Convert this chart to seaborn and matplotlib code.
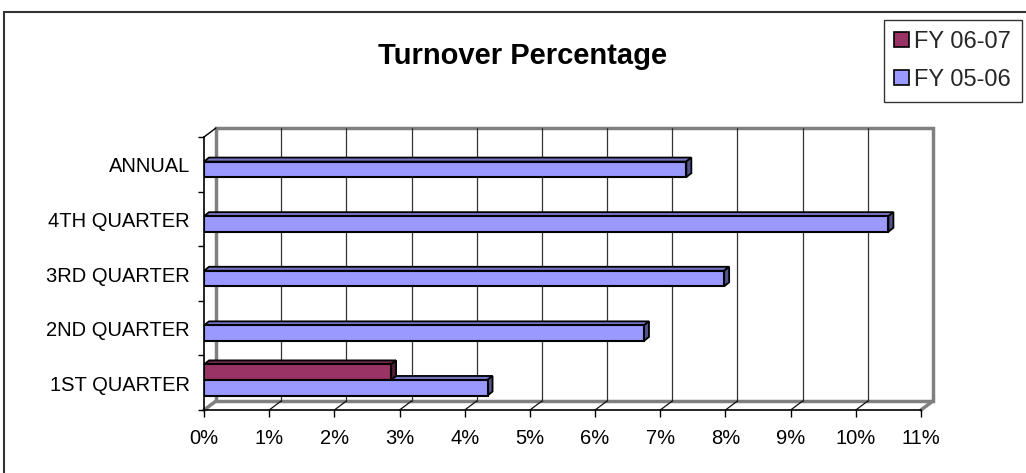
import matplotlib
matplotlib.use('Agg')
import matplotlib.pyplot as plt
import seaborn as sns
import pandas as pd
import numpy as np
from matplotlib.patches import Polygon, Rectangle, Patch
from matplotlib.lines import Line2D
from matplotlib.transforms import IdentityTransform

# data (percent)
periods = ['ANNUAL', '4TH QUARTER', '3RD QUARTER', '2ND QUARTER', '1ST QUARTER']
fy_0506 = [7.4, 10.5, 7.98, 6.75, 4.35]
fy_0607 = [None, None, None, None, 2.87]
years = ['FY 06-07', 'FY 05-06']
xticks = list(range(0, 12))
xtick_labels = [f'{t}%' for t in xticks]

rows = []
for p, v in zip(periods, fy_0607):
    if v is not None:
        rows.append((p, years[0], v))
for p, v in zip(periods, fy_0506):
    rows.append((p, years[1], v))
df = pd.DataFrame(rows, columns=['period', 'year', 'value'])

colors = {'FY 06-07': '#993366', 'FY 05-06': '#9999FF'}

sns.set_theme(style='white')
plt.rcParams['font.family'] = ['Liberation Sans', 'DejaVu Sans']

W, H = 1026, 473
fig = plt.figure(figsize=(W / 100, H / 100), dpi=100)
ax = fig.add_axes([204 / W, (H - 410) / H, 717 / W, 273 / H])

sns.barplot(data=df, x='value', y='period', hue='year', order=periods,
            hue_order=years, palette=colors, width=0.57, saturation=1,
            edgecolor='black', linewidth=1.5, legend=False, ax=ax)

ax.set_xlim(0, 11)
ax.set_ylim(4.55, -0.45)
ax.set_xlabel('')
ax.set_ylabel('')
ax.patch.set_visible(False)

# ---- pseudo 3D walls ----
DX, DY = 12, 9
ident = IdentityTransform()


def px(x, y, back=False):
    p = ax.transData.transform((x, y))
    if back:
        p = p + np.array([DX, DY])
    return p


def seg(p, q, color, lw, z=0.3):
    ax.add_line(Line2D([p[0], q[0]], [p[1], q[1]], color=color, lw=lw,
                       transform=ident, clip_on=False, zorder=z))


yb, yt = ax.get_ylim()
wall = [px(0, yb, True), px(11, yb, True), px(11, yt, True), px(0, yt, True)]
ax.add_patch(Polygon(wall, closed=True, facecolor='white', edgecolor='#808080',
                     lw=2.5, transform=ident, clip_on=False, zorder=0.2))
for t in xticks[1:-1]:
    seg(px(t, yb, True), px(t, yt, True), '#333333', 0.9)
    seg(px(t, yb), px(t, yb, True), '#111111', 0.9)
seg(px(0, yb), px(0, yb, True), '#808080', 2.5)
seg(px(11, yb), px(11, yb, True), '#808080', 2.5)
seg(px(0, yt), px(0, yt, True), 'black', 1.0)

# ---- bar depth faces ----
d = np.array([5, 4])
bars = [b for b in ax.patches if isinstance(b, Rectangle)]
for b in bars:
    if not np.isfinite(b.get_width()) or b.get_width() <= 0:
        continue
    bx, by, bw, bh = b.get_x(), b.get_y(), b.get_width(), b.get_height()
    tl, tr, br = px(bx, by), px(bx + bw, by), px(bx + bw, by + bh)
    fc = np.array(b.get_facecolor()[:3])
    z = 0.9 if np.allclose(fc, matplotlib.colors.to_rgb(colors['FY 06-07'])) else 0.8
    ax.add_patch(Polygon([tl, tr, tr + d, tl + d], closed=True, facecolor=fc * 0.78,
                         edgecolor='black', lw=1.3, transform=ident, clip_on=False, zorder=z))
    ax.add_patch(Polygon([tr, br, br + d, tr + d], closed=True, facecolor=fc * 0.55,
                         edgecolor='black', lw=1.3, transform=ident, clip_on=False, zorder=z))

# ---- axes styling ----
for s in ['top', 'right']:
    ax.spines[s].set_visible(False)
for s in ['left', 'bottom']:
    ax.spines[s].set_color('black')
    ax.spines[s].set_linewidth(1.2)
    ax.spines[s].set_zorder(2)

ax.set_xticks(xticks, xtick_labels)
ax.set_yticks(np.arange(len(periods)) + 0.06, periods)
ax.set_yticks(np.arange(-0.45, 4.6, 1.0), minor=True)
ax.tick_params(axis='x', length=5, width=1, color='black', direction='out',
               pad=9, labelsize=14.5, bottom=True)
ax.tick_params(axis='y', which='major', length=0, pad=10, labelsize=14.5)
ax.tick_params(axis='y', which='minor', length=4, width=1, color='black',
               direction='out', left=True)
for lab in ax.get_xticklabels() + ax.get_yticklabels():
    lab.set_color('black')

# title
fig.text(523 / W, 1 - 56 / H, 'Turnover Percentage', ha='center', va='center',
         fontsize=21, fontweight='bold', color='black')

# legend
handles = [Patch(facecolor=colors[y], edgecolor='black', lw=1.2) for y in years]
leg = ax.legend(handles, years, loc='upper right', bbox_to_anchor=(1022 / W, 1 - 20 / H),
                bbox_transform=fig.transFigure, fontsize=17, frameon=True,
                fancybox=False, edgecolor='black', handlelength=0.6, handleheight=0.6,
                handletextpad=0.25, labelspacing=0.7, borderpad=0.45, borderaxespad=0)
leg.get_frame().set_linewidth(1.0)

# outer chart frame
fig.patches.append(Rectangle((4 / W, -0.1), 1.2, 1.1 - 12 / H, transform=fig.transFigure,
                             fill=False, edgecolor='#333333', lw=1.5, zorder=0))

fig.savefig('out.png', dpi=100)
